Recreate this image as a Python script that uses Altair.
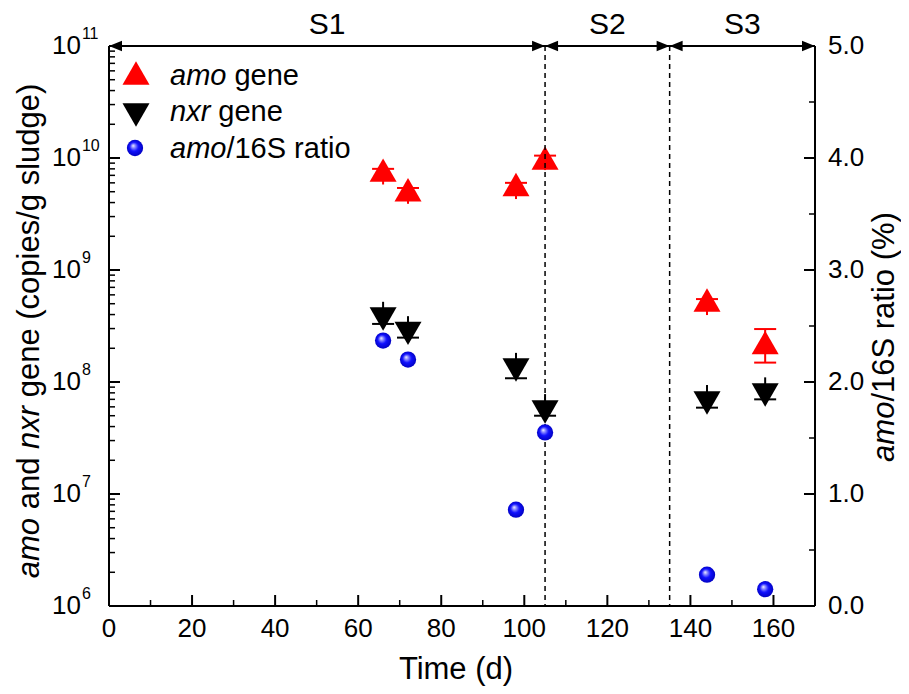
import altair as alt
import pandas as pd

# ---------------- data ----------------
time = [66, 72, 98, 105, 144, 158]
amo = [7.8e9, 5.2e9, 5.8e9, 1.0e10, 5.4e8, 2.25e8]
amo_lo = [5.8e9, 3.9e9, 4.3e9, 7.8e9, 3.96e8, 1.49e8]
amo_hi = [8.0e9, 5.4e9, 6.0e9, 1.05e10, 5.5e8, 2.97e8]
amo_lo_capped = [0, 0, 0, 0, 0, 1]
nxr = [3.65e8, 2.72e8, 1.28e8, 5.4e7, 6.5e7, 7.65e7]
nxr_lo = [3.3e8, 2.49e8, 1.08e8, 5.0e7, 5.9e7, 7.0e7]
nxr_hi = [5.2e8, 3.87e8, 1.82e8, 7.8e7, 9.4e7, 1.1e8]
ratio = [2.37, 2.20, 0.86, 1.55, 0.28, 0.15]

stage_bounds = [0, 105, 135, 170]
stage_names = ["S1", "S2", "S3"]

x_major = [0, 20, 40, 60, 80, 100, 120, 140, 160]
x_minor = [10, 30, 50, 70, 90, 110, 130, 150]
log_major = [1e6, 1e7, 1e8, 1e9, 1e10, 1e11]
log_exps = ["6", "7", "8", "9", "10", "11"]
log_minor = [m * 10.0 ** e for e in range(6, 11) for m in range(2, 10)]
r_major = [0, 1, 2, 3, 4, 5]
r_minor = [0.5, 1.5, 2.5, 3.5, 4.5]

# ---------------- layout ----------------
W, H = 706, 560
FONT = "Liberation Sans"
TICK_FS = 26
TITLE_FS = 31
LEG_FS = 29

ARIAL = {' ': 278, 'a': 556, 'b': 556, 'c': 500, 'd': 556, 'e': 556, 'g': 556,
         'i': 222, 'l': 222, 'm': 833, 'n': 556, 'o': 556, 'p': 556, 'r': 333,
         's': 500, 't': 278, 'u': 556, 'x': 500, '(': 333, ')': 333, '/': 278,
         '%': 889, '1': 556, '6': 556, 'S': 667}


def tw(s, f):
    return sum(ARIAL.get(c, 556) for c in s) * f / 1000.0


def rich_text(pieces, x0, y0, f, angle=0):
    """pieces: list of (text, italic). Horizontal (angle 0) or rotated upward (270)."""
    charts = []
    cum = 0.0
    for txt, ital in pieces:
        lead = len(txt) - len(txt.lstrip(' '))
        core = txt.strip(' ')
        off = cum + tw(' ' * lead, f)
        if angle == 0:
            px, py = x0 + off, y0
        else:
            px, py = x0, y0 - off
        c = alt.Chart(pd.DataFrame({'t': [core]})).mark_text(
            align='left', baseline='alphabetic' if angle == 0 else 'middle',
            font=FONT, fontSize=f, fontStyle='italic' if ital else 'normal',
            color='black', angle=angle
        ).encode(x=alt.value(px), y=alt.value(py), text='t:N')
        charts.append(c)
        cum += tw(txt, f)
    return charts


df = pd.DataFrame(dict(time=time, amo=amo, amo_lo=amo_lo, amo_hi=amo_hi,
                       amo_lo_capped=amo_lo_capped,
                       nxr=nxr, nxr_lo=nxr_lo, nxr_hi=nxr_hi, ratio=ratio))

xs = alt.Scale(domain=[0, 170], nice=False, zero=False)
ylog = alt.Scale(type='log', domain=[1e6, 1e11], nice=False)
yr = alt.Scale(domain=[0, 5], nice=False, zero=False)

X = alt.X('time:Q', scale=xs, axis=None)

# ---------- gene layers (log axis) ----------
amo_whisk = alt.Chart(df).mark_rule(color='red', strokeWidth=2).encode(
    x=X, y=alt.Y('amo_lo:Q', scale=ylog, axis=None), y2='amo_hi:Q')
amo_cap_lo = alt.Chart(df).transform_filter('datum.amo_lo_capped == 1').mark_tick(
    orient='horizontal', size=22, thickness=2, color='red', opacity=1).encode(
    x=X, y=alt.Y('amo_lo:Q', scale=ylog, axis=None))
amo_cap_hi = alt.Chart(df).mark_tick(orient='horizontal', size=22, thickness=2,
                                     color='red', opacity=1).encode(
    x=X, y=alt.Y('amo_hi:Q', scale=ylog, axis=None))
amo_pts = alt.Chart(df).mark_point(shape='triangle-up', filled=True, size=729,
                                   color='red', opacity=1).encode(
    x=X, y=alt.Y('amo:Q', scale=ylog, axis=None))

nxr_whisk = alt.Chart(df).mark_rule(color='black', strokeWidth=2).encode(
    x=X, y=alt.Y('nxr_lo:Q', scale=ylog, axis=None), y2='nxr_hi:Q')
nxr_cap_lo = alt.Chart(df).mark_tick(orient='horizontal', size=22, thickness=2,
                                     color='black', opacity=1).encode(
    x=X, y=alt.Y('nxr_lo:Q', scale=ylog, axis=None))
nxr_pts = alt.Chart(df).mark_point(shape='triangle-down', filled=True, size=729,
                                   color='black', opacity=1).encode(
    x=X, y=alt.Y('nxr:Q', scale=ylog, axis=None))

lm = pd.DataFrame({'v': log_major, 'e': log_exps})
ln = pd.DataFrame({'v': log_minor})
left_major = alt.Chart(lm).mark_rule(color='black', strokeWidth=2).encode(
    y=alt.Y('v:Q', scale=ylog, axis=None), x=alt.value(0), x2=alt.value(11))
left_minor = alt.Chart(ln).mark_rule(color='black', strokeWidth=1.5).encode(
    y=alt.Y('v:Q', scale=ylog, axis=None), x=alt.value(0), x2=alt.value(6))
LBL_X = -57
left_lbl = alt.Chart(lm).mark_text(align='left', baseline='middle', font=FONT,
                                   fontSize=TICK_FS, color='black').encode(
    y=alt.Y('v:Q', scale=ylog, axis=None), x=alt.value(LBL_X), text=alt.value('10'))
left_exp = alt.Chart(lm).mark_text(align='left', baseline='middle', font=FONT,
                                   fontSize=16, color='black', dy=-12).encode(
    y=alt.Y('v:Q', scale=ylog, axis=None),
    x=alt.value(LBL_X + tw('10', TICK_FS) + 1), text='e:N')

# frame (axis lines)
frame_left = alt.Chart(pd.DataFrame({'k': [0]})).mark_rule(color='black', strokeWidth=2).encode(
    x=alt.value(0), y=alt.value(0), y2=alt.value(H))
frame_right = alt.Chart(pd.DataFrame({'k': [0]})).mark_rule(color='black', strokeWidth=2).encode(
    x=alt.value(W), y=alt.value(0), y2=alt.value(H))
frame_bottom = alt.Chart(pd.DataFrame({'k': [0]})).mark_rule(color='black', strokeWidth=2).encode(
    x=alt.value(0), x2=alt.value(W), y=alt.value(H))

xm = pd.DataFrame({'t': x_major})
xn = pd.DataFrame({'t': x_minor})
x_major_t = alt.Chart(xm).mark_rule(color='black', strokeWidth=2).encode(
    x=alt.X('t:Q', scale=xs, axis=None), y=alt.value(H), y2=alt.value(H - 11))
x_minor_t = alt.Chart(xn).mark_rule(color='black', strokeWidth=1.5).encode(
    x=alt.X('t:Q', scale=xs, axis=None), y=alt.value(H), y2=alt.value(H - 6))
x_lbl = alt.Chart(xm).mark_text(font=FONT, fontSize=TICK_FS, color='black',
                                baseline='middle', align='center').encode(
    x=alt.X('t:Q', scale=xs, axis=None), y=alt.value(H + 23), text='t:Q')
x_title = alt.Chart(pd.DataFrame({'t': ['Time (d)']})).mark_text(
    font=FONT, fontSize=TITLE_FS, color='black', baseline='middle', align='center').encode(
    x=alt.value(347), y=alt.value(H + 64), text='t:N')

# stage dividers, arrows, labels
divs = pd.DataFrame({'t': stage_bounds[1:-1]})
dashed = alt.Chart(divs).mark_rule(color='black', strokeWidth=1.5,
                                   strokeDash=[5, 4]).encode(
    x=alt.X('t:Q', scale=xs, axis=None), y=alt.value(0), y2=alt.value(H))
span = pd.DataFrame({'a': [stage_bounds[0]], 'b': [stage_bounds[-1]]})
top_line = alt.Chart(span).mark_rule(color='black', strokeWidth=2).encode(
    x=alt.X('a:Q', scale=xs, axis=None), x2='b:Q', y=alt.value(0))
starts = pd.DataFrame({'t': stage_bounds[:-1]})
ends = pd.DataFrame({'t': stage_bounds[1:]})
arr_left = alt.Chart(starts).mark_point(shape='M0,0L1,-0.4L1,0.4Z', filled=True,
                                        size=676, color='black', opacity=1).encode(
    x=alt.X('t:Q', scale=xs, axis=None), y=alt.value(0))
arr_right = alt.Chart(ends).mark_point(shape='M0,0L-1,-0.4L-1,0.4Z', filled=True,
                                       size=676, color='black', opacity=1).encode(
    x=alt.X('t:Q', scale=xs, axis=None), y=alt.value(0))
stage_df = pd.DataFrame({'c': [(a + b) / 2 for a, b in zip(stage_bounds[:-1], stage_bounds[1:])],
                         'n': stage_names})
stage_lbl = alt.Chart(stage_df).mark_text(font=FONT, fontSize=30, color='black',
                                          baseline='middle').encode(
    x=alt.X('c:Q', scale=xs, axis=None), y=alt.value(-21), text='n:N')

# legend
one = pd.DataFrame({'k': [0]})
leg_sym1 = alt.Chart(one).mark_point(shape='triangle-up', filled=True, size=729,
                                     color='red', opacity=1).encode(
    x=alt.value(27), y=alt.value(27))
leg_sym2 = alt.Chart(one).mark_point(shape='triangle-down', filled=True, size=729,
                                     color='black', opacity=1).encode(
    x=alt.value(27), y=alt.value(69))

sphere = alt.RadialGradient(
    gradient='radial', x1=0.38, y1=0.35, r1=0.0, x2=0.5, y2=0.5, r2=0.55,
    stops=[alt.GradientStop(offset=0.0, color='#ffffff'),
           alt.GradientStop(offset=0.18, color='#9a9aff'),
           alt.GradientStop(offset=0.5, color='#1010ff'),
           alt.GradientStop(offset=1.0, color='#0000b8')])
leg_sym3 = alt.Chart(one).mark_point(shape='circle', filled=True, size=265,
                                     fill=sphere, opacity=1).encode(
    x=alt.value(26), y=alt.value(102))

legend_txt = (rich_text([('amo', True), (' gene', False)], 61, 39, LEG_FS)
              + rich_text([('nxr', True), (' gene', False)], 61, 75, LEG_FS)
              + rich_text([('amo', True), ('/16S ratio', False)], 61, 112, LEG_FS))

# left title (rotated)
lt_pieces = [('amo', True), (' and ', False), ('nxr', True), (' gene (copies/g sludge)', False)]
lt_len = sum(tw(p, TITLE_FS) for p, _ in lt_pieces)
left_title = rich_text(lt_pieces, -79, 285 + lt_len / 2, TITLE_FS, angle=270)

# right title (rotated)
rt_pieces = [('amo', True), ('/16S ratio (%)', False)]
rt_len = sum(tw(p, TITLE_FS) for p, _ in rt_pieces)
right_title = rich_text(rt_pieces, 776, 291 + rt_len / 2, TITLE_FS, angle=270)

left_group = alt.layer(
    amo_whisk, amo_cap_lo, amo_cap_hi, nxr_whisk, nxr_cap_lo,
    amo_pts, nxr_pts, left_major, left_minor, left_lbl, left_exp,
    frame_left, frame_right, frame_bottom,
    x_major_t, x_minor_t, x_lbl, x_title, dashed, top_line, arr_left, arr_right,
    stage_lbl, leg_sym1, leg_sym2, leg_sym3, *legend_txt, *left_title, *right_title)

# ---------- ratio layer (right axis) ----------
rm = pd.DataFrame({'v': r_major})
rn = pd.DataFrame({'v': r_minor})
ratio_pts = alt.Chart(df).mark_point(shape='circle', filled=True, size=265,
                                     fill=sphere, opacity=1).encode(
    x=X, y=alt.Y('ratio:Q', scale=yr, axis=None))
right_major = alt.Chart(rm).mark_rule(color='black', strokeWidth=2).encode(
    y=alt.Y('v:Q', scale=yr, axis=None), x=alt.value(W), x2=alt.value(W - 11))
right_minor = alt.Chart(rn).mark_rule(color='black', strokeWidth=1.5).encode(
    y=alt.Y('v:Q', scale=yr, axis=None), x=alt.value(W), x2=alt.value(W - 6))
right_lbl = alt.Chart(rm).mark_text(font=FONT, fontSize=TICK_FS, color='black',
                                    align='left', baseline='middle').encode(
    y=alt.Y('v:Q', scale=yr, axis=None), x=alt.value(W + 13),
    text=alt.Text('v:Q', format='.1f'))
right_group = alt.layer(ratio_pts, right_major, right_minor, right_lbl)

chart = alt.layer(left_group, right_group).resolve_scale(y='independent').properties(
    width=W, height=H,
    autosize=alt.AutoSizeParams(type='none'),
    padding={'left': 101, 'top': 38, 'right': 86, 'bottom': 80},
).configure_view(strokeWidth=0)

chart.save("out.html", embed_options={"renderer": "svg", "actions": False})
